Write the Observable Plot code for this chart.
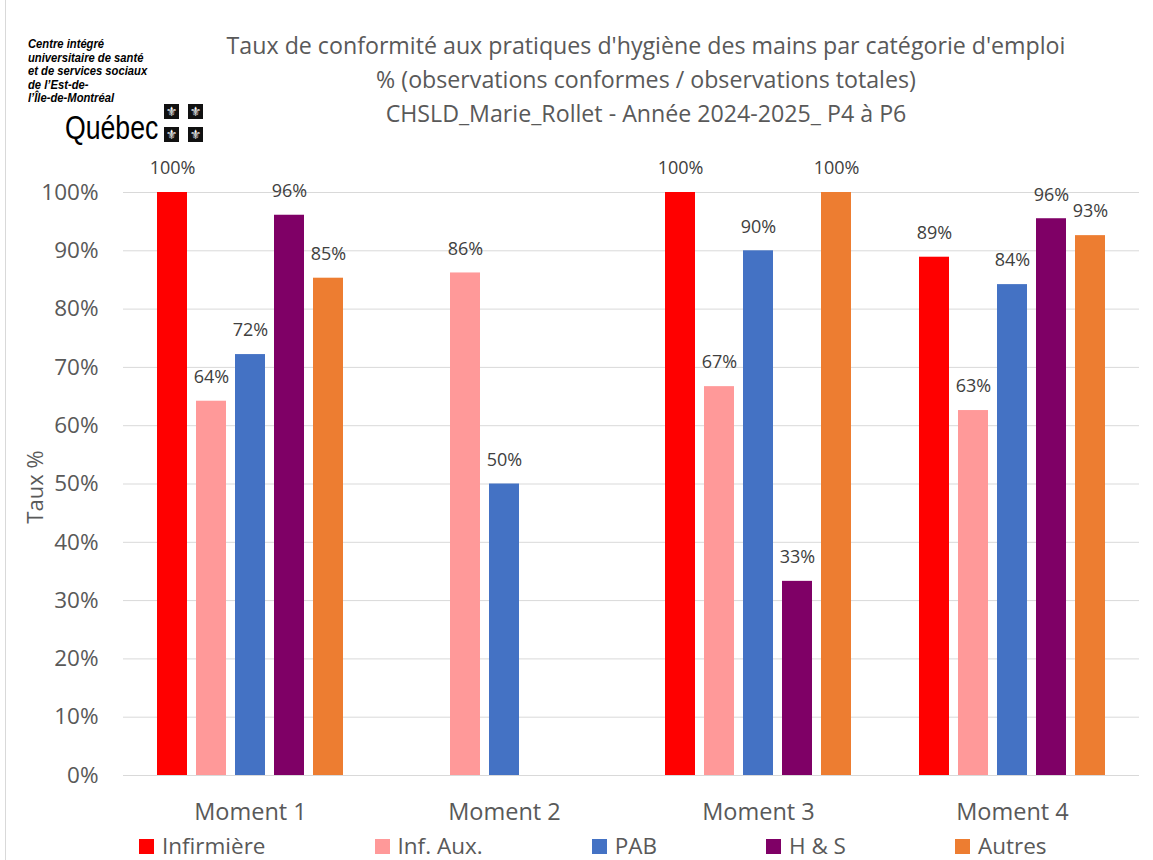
<!DOCTYPE html>
<html>
<head>
<meta charset="utf-8">
<script src="https://cdn.jsdelivr.net/npm/d3@7"></script>
<script src="https://cdn.jsdelivr.net/npm/@observablehq/plot@0.6"></script>
<style>
  html, body { margin: 0; padding: 0; background: #ffffff; }
  #wrap { position: relative; width: 1153px; height: 860px; overflow: hidden; background: #fff; font-family: "Open Sans", sans-serif; }
  #chart { position: absolute; left: 0; top: 0; }
  #border { position: absolute; left: 5px; top: 0; width: 1px; height: 860px; background: #d9d9d9; }
  #title { position: absolute; left: 0; width: 1292px; top: 28px; text-align: center; font-size: 23.2px; line-height: 34px; color: #595959; }
  #ylabel { position: absolute; left: 34px; top: 487px; transform: translate(-50%, -50%) rotate(-90deg); font-size: 22px; color: #595959; white-space: nowrap; }
  #legend { position: absolute; left: 139px; top: 834px; height: 24px; display: flex; gap: 109px; align-items: center; font-size: 22.5px; color: #595959; line-height: 24px; white-space: nowrap; }
  #legend .item { display: flex; align-items: center; }
  #legend .sw { width: 15px; height: 15px; margin-right: 8px; }
  .logo { position: absolute; font-family: "Liberation Sans", Arial, sans-serif; color: #000; transform-origin: left top; transform: scaleX(0.82); white-space: nowrap; }
  #org { left: 28px; top: 37px; font-size: 13.7px; line-height: 13.6px; font-weight: bold; font-style: italic; }
  #qc { left: 65px; top: 110px; font-size: 32.5px; line-height: 36px; }
  .flag { position: absolute; width: 15px; height: 15px; background: #111; color: #fff; font-family: "DejaVu Sans", sans-serif; font-size: 13px; line-height: 15px; text-align: center; overflow: hidden; }
</style>
</head>
<body>
<div id="wrap">
  <div id="border"></div>
  <div id="chart"></div>
  <div id="org" class="logo">Centre intégré<br>universitaire de santé<br>et de services sociaux<br>de l’Est-de-<br>l’Île-de-Montréal</div>
  <div id="qc" class="logo">Québec</div>
  <div class="flag" style="left:164px;top:104px">⚜</div>
  <div class="flag" style="left:188px;top:104px">⚜</div>
  <div class="flag" style="left:164px;top:127px">⚜</div>
  <div class="flag" style="left:188px;top:127px">⚜</div>
  <div id="title"></div>
  <div id="ylabel">Taux %</div>
  <div id="legend"></div>
</div>
<script>
// ---- Data ----
const titleLines = [
  "Taux de conformité aux pratiques d'hygiène des mains par catégorie d'emploi",
  "% (observations conformes / observations totales)",
  "CHSLD_Marie_Rollet - Année 2024-2025_ P4 à P6"
];
const moments = ["Moment 1", "Moment 2", "Moment 3", "Moment 4"];
const categories = ["Infirmière", "Inf. Aux.", "PAB", "H & S", "Autres"];
const infirmiere = [1.00, null, 1.00, 0.889];
const infAux = [0.642, 0.862, 0.667, 0.626];
const pab = [0.722, 0.500, 0.900, 0.842];
const hs = [0.961, null, 0.333, 0.955];
const autres = [0.853, null, 1.00, 0.926];
const colors = ["#FF0000", "#FF9999", "#4472C4", "#7F0066", "#ED7D31"];
const yTicks = [0, 0.1, 0.2, 0.3, 0.4, 0.5, 0.6, 0.7, 0.8, 0.9, 1.0];

const seriesValues = [infirmiere, infAux, pab, hs, autres];
const rows = [];
categories.forEach((c, i) => {
  moments.forEach((m, j) => {
    const v = seriesValues[i][j];
    if (v != null) rows.push({ moment: m, category: c, value: v });
  });
});

const pct = d3.format(".0%");

document.getElementById("title").innerHTML = titleLines.map(t => `<div>${t}</div>`).join("");
document.getElementById("legend").innerHTML = categories.map((c, i) =>
  `<div class="item"><div class="sw" style="background:${colors[i]}"></div><span>${c}</span></div>`).join("");

const chart = Plot.plot({
  width: 1153,
  height: 860,
  marginTop: 192,
  marginBottom: 85,
  marginLeft: 122,
  marginRight: 13,
  style: { fontFamily: "'Open Sans', sans-serif", background: "transparent", overflow: "visible" },
  fx: { domain: moments, padding: 0, label: null },
  x: { domain: categories, paddingInner: 0.236, paddingOuter: 0.86, axis: null },
  y: { domain: [0, 1], label: null },
  color: { domain: categories, range: colors },
  marks: [
    Plot.gridY(yTicks, { stroke: "#d9d9d9", strokeOpacity: 1, strokeWidth: 1 }),
    Plot.axisY(yTicks, { tickFormat: pct, tickSize: 0, tickPadding: 25, label: null, color: "#595959", fontSize: 22.5 }),
    Plot.axisFx({ anchor: "bottom", tickSize: 0, tickPadding: 28, label: null, color: "#595959", fontSize: 23.5 }),
    Plot.barY(rows, { fx: "moment", x: "category", y: "value", fill: "category" }),
    Plot.text(rows, { fx: "moment", x: "category", y: "value", text: d => pct(d.value), dy: -24, lineAnchor: "middle", fontSize: 18, fill: "#404040" })
  ]
});
document.getElementById("chart").appendChild(chart);
</script>
</body>
</html>
